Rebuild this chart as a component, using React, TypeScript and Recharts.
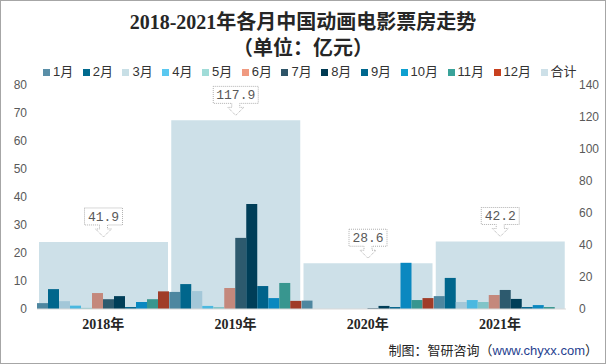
import React from "react";
import {
  BarChart,
  Bar,
  XAxis,
  YAxis,
  LabelList,
} from "recharts";

const years = ["2018年", "2019年", "2020年", "2021年"];
const months = ["1月", "2月", "3月", "4月", "5月", "6月", "7月", "8月", "9月", "10月", "11月", "12月"];

// monthly box office, 亿元
const v2018 = [2.1, 7.1, 2.8, 1.2, 0.4, 5.7, 3.5, 4.6, 0.7, 2.5, 3.5, 6.3];
const v2019 = [6.1, 8.9, 6.4, 1.1, 0.7, 7.5, 25.4, 37.5, 8.2, 3.9, 9.3, 2.9];
const v2020 = [3.0, 0, 0, 0, 0, 0, 0.3, 1.1, 0.7, 16.5, 3.2, 3.9];
const v2021 = [4.6, 11.1, 2.5, 3.2, 2.5, 5.0, 6.8, 3.6, 0.7, 1.4, 0.7, 0];
const totals = [41.9, 117.9, 28.6, 42.2];

const leftTicks = [0, 10, 20, 30, 40, 50, 60, 70, 80];
const rightTicks = [0, 20, 40, 60, 80, 100, 120, 140];

const barColors = [
  "#4e87a0", "#00668c", "#a3c7d8", "#4ab8e0", "#80c4c8", "#c4887c",
  "#2d5a6e", "#003e58", "#00628a", "#0a88c0", "#38968f", "#a03c28",
];
const legendColors = [
  "#5a8fa8", "#006a8e", "#c8dfe6", "#5ac8f0", "#a0dcd8", "#f09a80",
  "#2e5468", "#003a52", "#00688e", "#0ea0d0", "#3aa39a", "#c8401e",
];
const totalColor = "#cde0e8";

const byYear = [v2018, v2019, v2020, v2021];
const data = years.map((year, i) => {
  const row: Record<string, number | string> = { year, total: totals[i] };
  months.forEach((m, j) => {
    row[m] = byYear[i][j];
  });
  return row;
});

const tickFont = '"Liberation Sans", "Noto Sans CJK SC", sans-serif';

function CalloutLabel(props: any) {
  const { x, y, width, value } = props;
  const cx = x + width / 2;
  const text = String(value);
  const w = text.length * 7 + 10;
  const h = 17;
  const tip = y - 5;
  const bottom = tip - 12;
  const top = bottom - h;
  const l = cx - w / 2;
  const r = cx + w / 2;
  const d = `M${l},${top} L${r},${top} L${r},${bottom} L${cx + 4},${bottom} L${cx + 4},${bottom + 4} L${cx + 8},${bottom + 4} L${cx},${tip} L${cx - 8},${bottom + 4} L${cx - 4},${bottom + 4} L${cx - 4},${bottom} L${l},${bottom} Z`;
  return (
    <g>
      <path d={d} fill="#fff" stroke="#b0b0b0" strokeDasharray="1 1" />
      <text
        x={cx}
        y={top + h / 2 + 4.5}
        textAnchor="middle"
        fontSize={13}
        fontFamily='"Liberation Mono", monospace'
        fill="#595959"
      >
        {text}
      </text>
    </g>
  );
}

function LegendRow() {
  const items = [...months.map((m, i) => ({ name: m, color: legendColors[i] })), { name: "合计", color: totalColor }];
  return (
    <div
      style={{
        position: "absolute",
        top: 63,
        left: 43,
        display: "flex",
        alignItems: "center",
        fontFamily: tickFont,
        fontSize: 13,
        lineHeight: "18px",
        color: "#333",
      }}
    >
      {items.map((it) => (
        <div key={it.name} style={{ display: "flex", alignItems: "center", marginRight: 9.5 }}>
          <span style={{ display: "inline-block", width: 7, height: 7, background: it.color, marginRight: 3 }} />
          <span>{it.name}</span>
        </div>
      ))}
    </div>
  );
}

export default function App() {
  return (
    <div style={{ position: "absolute", left: 0, top: 0, width: 606, height: 364, background: "#fff" }}>
      <div
        style={{
          position: "absolute",
          top: 9,
          width: 606,
          textAlign: "center",
          fontFamily: '"Liberation Serif", "Noto Sans CJK SC", serif',
          fontWeight: "bold",
          fontSize: 20,
          lineHeight: "26px",
          color: "#262626",
        }}
      >
        <div>2018-2021年各月中国动画电影票房走势</div>
        <div>（单位：亿元）</div>
      </div>
      <LegendRow />
      <div style={{ position: "absolute", left: 0, top: 0 }}>
        <BarChart
          width={606}
          height={364}
          data={data}
          margin={{ top: 85, right: 0, bottom: 25, left: 0 }}
          barCategoryGap={0}
          barGap={0}
        >
          <XAxis
            xAxisId="main"
            dataKey="year"
            height={30}
            tickLine={false}
            axisLine={{ stroke: "#d9d9d9" }}
            tickMargin={4}
            tick={{ fontSize: 14, fontWeight: "bold", fill: "#262626", fontFamily: '"Liberation Serif", "Noto Sans CJK SC", serif' }}
          />
          <XAxis xAxisId="total" dataKey="year" hide />
          <YAxis
            yAxisId="left"
            width={37}
            domain={[0, 80]}
            ticks={leftTicks}
            tickLine={false}
            axisLine={false}
            tickMargin={4}
            tick={{ fontSize: 12, fill: "#595959", fontFamily: tickFont }}
          />
          <YAxis
            yAxisId="right"
            orientation="right"
            width={40}
            domain={[0, 140]}
            ticks={rightTicks}
            tickLine={false}
            axisLine={false}
            tickMargin={7}
            tick={{ fontSize: 12, fill: "#595959", fontFamily: tickFont, textAnchor: "start" }}
          />
          <Bar
            xAxisId="total"
            yAxisId="right"
            dataKey="total"
            name="合计"
            fill={totalColor}
            barSize={129}
            isAnimationActive={false}
          >
            <LabelList dataKey="total" content={<CalloutLabel />} />
          </Bar>
          {months.map((m, i) => (
            <Bar
              key={m}
              xAxisId="main"
              yAxisId="left"
              dataKey={m}
              fill={barColors[i]}
              isAnimationActive={false}
            />
          ))}
        </BarChart>
      </div>
      <div
        style={{
          position: "absolute",
          right: 8,
          top: 340,
          fontFamily: '"Noto Sans CJK SC", sans-serif',
          fontSize: 13,
          color: "#262626",
        }}
      >
        制图：智研咨询（<span style={{ color: "#1f3f8f", fontFamily: tickFont }}>www.chyxx.com</span>）
      </div>
      <div
        style={{
          position: "absolute",
          left: 0,
          top: 0,
          width: 606,
          height: 364,
          boxSizing: "border-box",
          border: "1px solid #a6a6a6",
          pointerEvents: "none",
        }}
      />
    </div>
  );
}
